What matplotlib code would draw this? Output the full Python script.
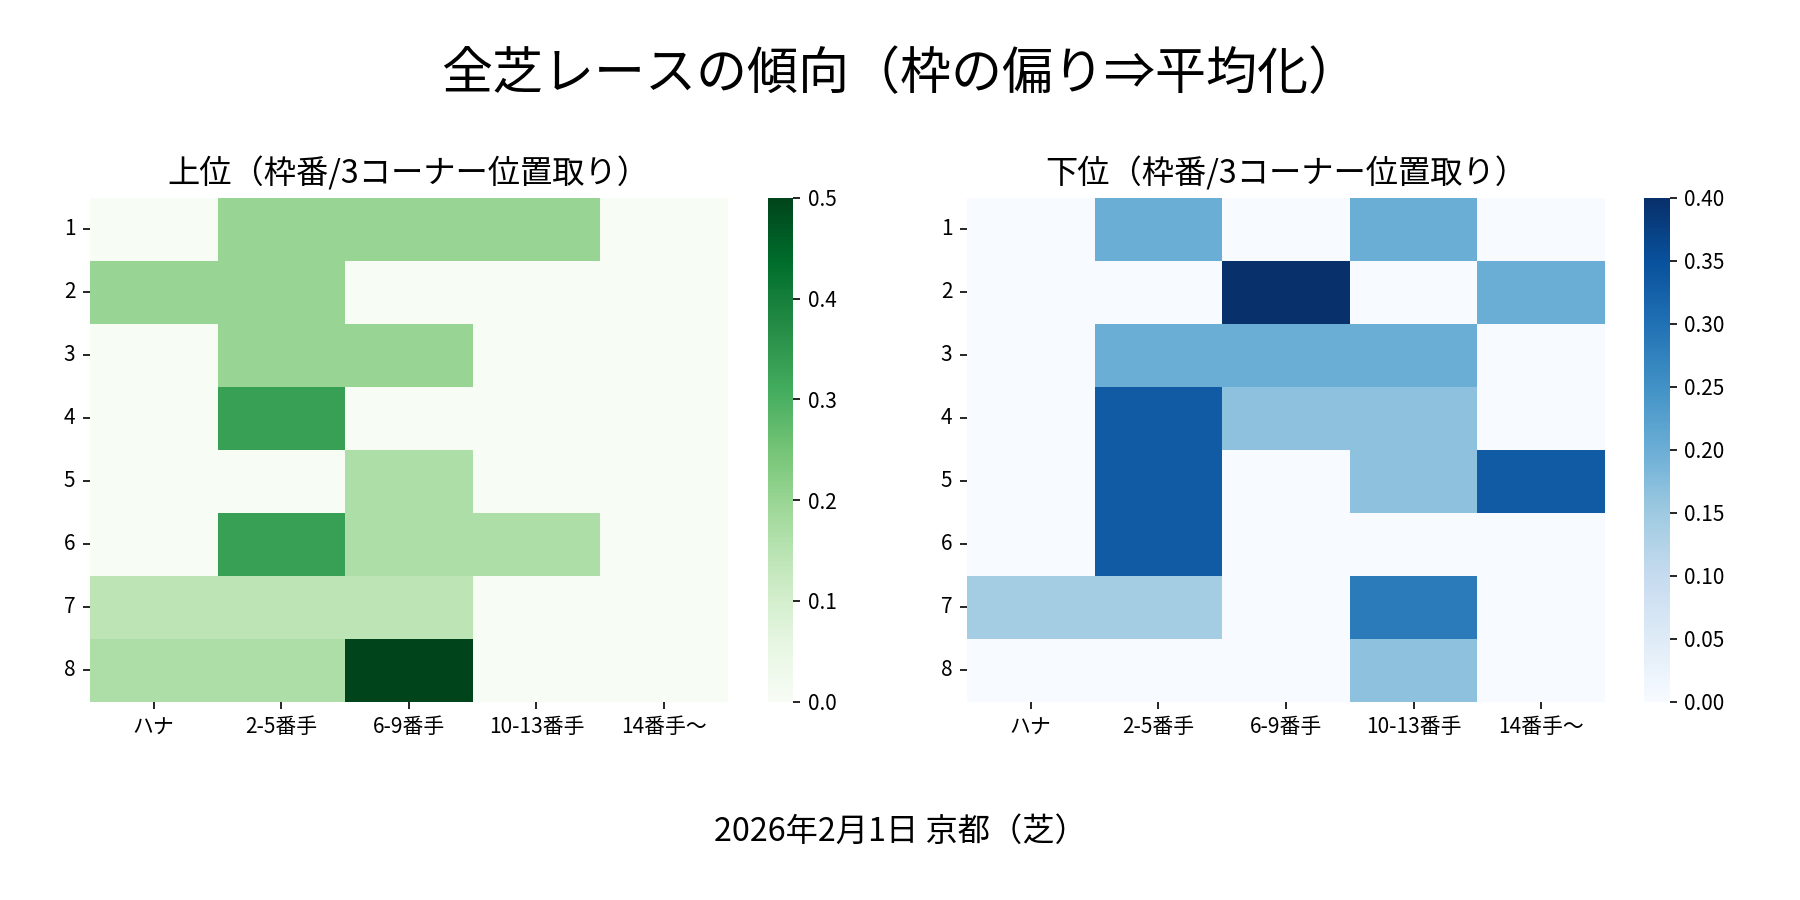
import matplotlib
matplotlib.use("Agg")
import matplotlib.pyplot as plt
import seaborn as sns
import numpy as np

plt.rcParams['font.family'] = ['Noto Sans CJK JP', 'DejaVu Sans']

rows = ["1", "2", "3", "4", "5", "6", "7", "8"]
cols = ["ハナ", "2-5番手", "6-9番手", "10-13番手", "14番手〜"]

top_values = [
    [0.0, 0.2, 0.2, 0.2, 0.0],
    [0.2, 0.2, 0.0, 0.0, 0.0],
    [0.0, 0.2, 0.2, 0.0, 0.0],
    [0.0, 1/3, 0.0, 0.0, 0.0],
    [0.0, 0.0, 1/6, 0.0, 0.0],
    [0.0, 1/3, 1/6, 1/6, 0.0],
    [1/7, 1/7, 1/7, 0.0, 0.0],
    [1/6, 1/6, 0.5, 0.0, 0.0],
]
bottom_values = [
    [0.0, 0.2, 0.0, 0.2, 0.0],
    [0.0, 0.0, 0.4, 0.0, 0.2],
    [0.0, 0.2, 0.2, 0.2, 0.0],
    [0.0, 1/3, 1/6, 1/6, 0.0],
    [0.0, 1/3, 0.0, 1/6, 1/3],
    [0.0, 1/3, 0.0, 0.0, 0.0],
    [1/7, 1/7, 0.0, 2/7, 0.0],
    [0.0, 0.0, 0.0, 1/6, 0.0],
]

suptitle = "全芝レースの傾向（枠の偏り⇒平均化）"
left_title = "上位（枠番/3コーナー位置取り）"
right_title = "下位（枠番/3コーナー位置取り）"
footer = "2026年2月1日 京都（芝）"

fig = plt.figure(figsize=(12, 6), dpi=150)
ax1 = fig.add_axes([0.050, 0.2203, 0.3543, 0.5597])
cax1 = fig.add_axes([0.4268, 0.2203, 0.0138, 0.5597])
ax2 = fig.add_axes([0.5372, 0.2203, 0.3545, 0.5597])
cax2 = fig.add_axes([0.9133, 0.2203, 0.0142, 0.5597])

sns.heatmap(np.array(top_values), ax=ax1, cbar_ax=cax1, cmap="Greens",
            vmin=0, vmax=0.5, xticklabels=cols, yticklabels=rows)
sns.heatmap(np.array(bottom_values), ax=ax2, cbar_ax=cax2, cmap="Blues",
            vmin=0, vmax=0.4, xticklabels=cols, yticklabels=rows)

for ax, t in ((ax1, left_title), (ax2, right_title)):
    ax.set_title(t, fontsize=15.5, pad=7)
    ax.tick_params(axis='both', labelsize=10)
    ax.set_yticklabels(rows, rotation=0)
    ax.set_xticklabels(cols, rotation=0)
for cax in (cax1, cax2):
    cax.tick_params(labelsize=10)

cax1.set_yticks(np.arange(0, 0.51, 0.1))
cax1.set_yticklabels([f"{v:.1f}" for v in np.arange(0, 0.51, 0.1)])
cax2.set_yticks(np.arange(0, 0.401, 0.05))
cax2.set_yticklabels([f"{v:.2f}" for v in np.arange(0, 0.401, 0.05)])

fig.text(0.5, 0.917, suptitle, ha='center', va='center', fontsize=24.5)
fig.text(0.5, 0.076, footer, ha='center', va='center', fontsize=15.5)

fig.savefig("out.png", dpi=150)
